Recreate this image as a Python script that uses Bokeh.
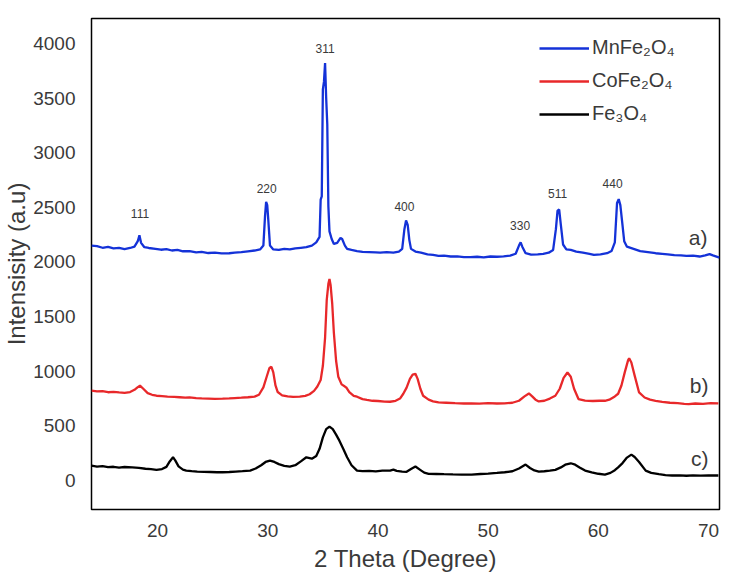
# XRD patterns of MnFe2O4, CoFe2O4 and Fe3O4
from bokeh.core.properties import value
from bokeh.embed import file_html
from bokeh.models import FixedTicker, Legend, LegendItem, Range1d
from bokeh.plotting import figure
from bokeh.resources import INLINE

# %%
# MnFe2O4 (a)
mn_2theta = [14.0, 14.5, 15.0, 15.5, 16.0, 16.5, 17.0, 17.5, 17.9, 18.2, 18.35, 18.5, 18.8, 19.2, 19.8,
             20.3, 20.8, 21.3, 21.8, 22.3, 22.9, 23.5, 24.0, 24.6, 25.2, 25.8, 26.5, 27.0, 27.6, 28.2,
             28.8, 29.3, 29.6, 29.75, 29.85, 29.95, 30.05, 30.2, 30.5, 31.0, 31.5, 32.0, 32.5, 33.0, 33.5,
             34.0, 34.4, 34.7, 34.8, 34.9, 35.0, 35.1, 35.2, 35.3, 35.4, 35.5, 35.6, 35.8, 36.0, 36.3,
             36.6, 36.75, 37.0, 37.2, 37.6, 38.1, 38.6, 39.2, 39.8, 40.2, 40.8, 41.4, 41.9, 42.2, 42.4,
             42.55, 42.7, 42.85, 43.0, 43.4, 43.9, 44.5, 45.0, 45.5, 46.0, 46.6, 47.2, 47.8, 48.4, 49.0,
             49.6, 50.2, 50.8, 51.4, 52.0, 52.5, 52.8, 52.95, 53.1, 53.4, 53.9, 54.5, 55.0, 55.5, 55.9,
             56.15, 56.3, 56.45, 56.6, 56.8, 57.1, 57.5, 58.0, 58.6, 59.2, 59.6, 60.2, 60.8, 61.2, 61.5,
             61.7, 61.85, 62.0, 62.15, 62.35, 62.6, 63.2, 63.8, 64.5, 65.2, 65.8, 66.3, 66.9, 67.5, 68.0,
             68.6, 69.2, 69.7, 70.1, 70.4, 71.0]
mn_int = [2150, 2145, 2130, 2138, 2125, 2130, 2118, 2128, 2140, 2190, 2245, 2175, 2135, 2128, 2120,
          2112, 2118, 2105, 2110, 2098, 2100, 2088, 2092, 2082, 2085, 2078, 2080, 2085, 2090, 2098,
          2105, 2115, 2150, 2420, 2550, 2520, 2380, 2150, 2115, 2110, 2120, 2115, 2125, 2130, 2135,
          2150, 2180, 2230, 2570, 2600, 3580, 3650, 3820, 3500, 3260, 2510, 2280, 2210, 2165, 2175,
          2220, 2210, 2150, 2120, 2110, 2100, 2092, 2090, 2088, 2085, 2090, 2085, 2095, 2120, 2300,
          2380, 2340, 2200, 2120, 2095, 2085, 2070, 2065, 2055, 2058, 2050, 2052, 2045, 2045, 2048,
          2042, 2050, 2048, 2052, 2058, 2075, 2150, 2180, 2140, 2080, 2068, 2070, 2075, 2085, 2110,
          2300, 2470, 2480, 2340, 2160, 2115, 2110, 2095, 2085, 2075, 2065, 2070, 2080, 2100, 2180,
          2540, 2575, 2520, 2380, 2190, 2140, 2120, 2100, 2090, 2080, 2075, 2070, 2062, 2060, 2055,
          2058, 2050, 2060, 2072, 2060, 2040]

# CoFe2O4 (b)
co_2theta = [14.0, 14.5, 15.0, 15.5, 16.0, 16.5, 17.0, 17.5, 17.9, 18.2, 18.4, 18.7, 19.1, 19.5, 19.9,
             20.4, 20.9, 21.5, 22.0, 22.5, 22.9, 23.5, 24.0, 24.6, 25.2, 25.9, 26.5, 27.0, 27.6, 28.2,
             28.8, 29.2, 29.6, 29.9, 30.15, 30.33, 30.5, 30.7, 30.9, 31.3, 31.8, 32.3, 32.9, 33.4, 33.8,
             34.2, 34.5, 34.8, 35.0, 35.2, 35.35, 35.5, 35.6, 35.7, 35.85, 36.0, 36.2, 36.4, 36.7, 37.0,
             37.15, 37.4, 37.8, 38.1, 38.6, 39.0, 39.5, 40.0, 40.6, 41.1, 41.6, 42.0, 42.3, 42.6, 42.9,
             43.15, 43.4, 43.6, 43.85, 44.1, 44.6, 45.0, 45.5, 46.2, 47.0, 47.8, 48.5, 49.2, 50.0, 50.8,
             51.5, 52.2, 52.8, 53.3, 53.7, 54.0, 54.3, 54.6, 55.1, 55.6, 56.1, 56.5, 56.85, 57.2, 57.5,
             57.8, 58.2, 58.8, 59.5, 60.1, 60.6, 61.0, 61.5, 61.8, 62.1, 62.4, 62.7, 62.8, 63.0, 63.3,
             63.7, 64.2, 64.7, 65.2, 65.8, 66.5, 67.2, 67.8, 68.2, 68.8, 69.5, 70.2, 70.9]
co_int = [822, 815, 818, 808, 812, 806, 802, 810, 830, 855, 868, 840, 800, 785, 776,
          772, 768, 765, 762, 758, 761, 755, 752, 750, 748, 749, 752, 755, 758, 762,
          768, 785, 852, 950, 1030, 1041, 990, 870, 810, 780, 770, 765, 768, 775, 790,
          820, 860, 920, 1050, 1306, 1650, 1800, 1845, 1790, 1616, 1350, 1096, 950, 880, 860,
          849, 810, 775, 767, 745, 738, 730, 728, 722, 721, 730, 750, 794, 850, 930,
          970, 977, 930, 840, 776, 740, 725, 715, 712, 708, 705, 706, 704, 708, 705,
          706, 712, 730, 770, 797, 770, 740, 724, 730, 750, 776, 840, 940, 989, 950,
          840, 746, 732, 728, 730, 730, 740, 770, 794, 870, 990, 1100, 1120, 1080, 960,
          806, 760, 740, 730, 720, 712, 708, 702, 700, 705, 702, 708, 706]

# Fe3O4 (c)
fe_2theta = [14.0, 14.5, 15.0, 15.5, 16.0, 16.5, 17.0, 17.7, 18.3, 18.9, 19.4, 19.9, 20.4, 20.8, 21.1,
             21.4, 21.6, 21.9, 22.3, 22.6, 23.1, 23.6, 24.2, 24.8, 25.4, 25.9, 26.5, 27.1, 27.7, 28.4,
             28.9, 29.4, 29.8, 30.2, 30.6, 31.0, 31.5, 32.0, 32.5, 33.0, 33.5, 34.0, 34.4, 34.7, 35.0,
             35.3, 35.6, 35.9, 36.2, 36.5, 36.9, 37.2, 37.6, 38.1, 38.6, 39.2, 39.8, 40.4, 41.1, 41.4,
             41.7, 42.2, 42.6, 43.0, 43.4, 43.8, 44.2, 44.6, 45.3, 46.0, 46.8, 47.6, 48.5, 49.3, 50.0,
             50.8, 51.5, 52.2, 52.8, 53.4, 53.8, 54.2, 54.6, 55.1, 55.6, 56.1, 56.6, 57.0, 57.5, 57.9,
             58.3, 58.8, 59.4, 60.0, 60.6, 61.1, 61.5, 61.8, 62.2, 62.6, 63.0, 63.3, 63.7, 64.3, 64.8,
             65.5, 66.1, 66.7, 67.4, 68.0, 68.6, 69.3, 70.0, 70.9]
fe_int = [137, 128, 132, 122, 126, 118, 124, 121, 116, 108, 104, 98, 105, 125, 175,
          213, 185, 130, 100, 91, 86, 82, 80, 78, 76, 76, 78, 82, 86, 91,
          110, 140, 170, 183, 170, 150, 135, 128, 140, 175, 213, 200, 225, 290, 395,
          470, 493, 470, 420, 365, 280, 213, 140, 91, 86, 88, 84, 90, 91, 100,
          88, 82, 80, 105, 128, 100, 72, 61, 60, 58, 56, 55, 55, 60, 64,
          70, 76, 85, 110, 146, 115, 92, 82, 85, 90, 98, 120, 145, 158, 145,
          120, 91, 75, 62, 55, 70, 95, 121, 160, 210, 237, 215, 170, 91, 70,
          58, 50, 46, 48, 44, 48, 45, 47, 46]

# ピークの指数
peak_labels = ["111", "220", "311", "400", "330", "511", "440"]
peak_x = [18.4, 29.9, 35.2, 42.4, 52.9, 56.3, 61.3]
peak_y = [2440, 2675, 3955, 2510, 2330, 2630, 2720]

sample_labels = ["a)", "b)", "c)"]
sample_x = [69.9, 70.0, 70.0]
sample_y = [2228, 868, 201]

x_ticks = [20, 30, 40, 50, 60, 70]
y_ticks = [0, 500, 1000, 1500, 2000, 2500, 3000, 3500, 4000]

# %%
FONT = "Liberation Sans"
TEXT_COLOR = "#3a3a3a"

p = figure(width=725, height=575, x_range=Range1d(14, 71), y_range=Range1d(-265, 4228),
           output_backend="svg", toolbar_location=None,
           min_border_left=84, min_border_right=6, min_border_top=18, min_border_bottom=66,
           x_axis_label="2 Theta (Degree)", y_axis_label="Intensisity (a.u)")

r_mn = p.line(mn_2theta, mn_int, line_width=2.3, color="#1432d8")
r_co = p.line(co_2theta, co_int, line_width=2.3, color="#e8282a")
r_fe = p.line(fe_2theta, fe_int, line_width=2.3, color="black")

p.text(peak_x, peak_y, text=peak_labels, text_font=value(FONT), text_font_size="12px",
       text_color=TEXT_COLOR, text_align="center", text_baseline="middle")
p.text(sample_x, sample_y, text=sample_labels, text_font=value(FONT), text_font_size="21px",
       text_color=TEXT_COLOR, text_align="right", text_baseline="middle")

legend = Legend(items=[LegendItem(label="MnFe₂O₄", renderers=[r_mn]),
                       LegendItem(label="CoFe₂O₄", renderers=[r_co]),
                       LegendItem(label="Fe₃O₄", renderers=[r_fe])],
                location=(448, 384), glyph_width=50, glyph_height=20, label_height=20,
                spacing=10, padding=0, margin=0, label_standoff=3,
                border_line_color=None, background_fill_alpha=0,
                label_text_font=FONT, label_text_font_size="20px", label_text_color=TEXT_COLOR)
p.add_layout(legend)

p.xgrid.grid_line_color = None
p.ygrid.grid_line_color = None
p.outline_line_color = "black"
p.outline_line_width = 1.5

for ax in (p.xaxis, p.yaxis):
    ax.axis_line_color = None
    ax.major_tick_line_color = None
    ax.minor_tick_line_color = None
    ax.major_label_text_font = FONT
    ax.major_label_text_font_size = "19px"
    ax.major_label_text_color = TEXT_COLOR
    ax.axis_label_text_font = FONT
    ax.axis_label_text_font_size = "24px"
    ax.axis_label_text_font_style = "normal"
    ax.axis_label_text_color = TEXT_COLOR

p.xaxis.ticker = FixedTicker(ticks=x_ticks)
p.yaxis.ticker = FixedTicker(ticks=y_ticks)
p.xaxis.major_label_standoff = 8
p.yaxis.major_label_standoff = 10
p.xaxis.axis_label_standoff = 5
p.yaxis.axis_label_standoff = 0

open("out.html", "w").write(file_html(p, INLINE))
